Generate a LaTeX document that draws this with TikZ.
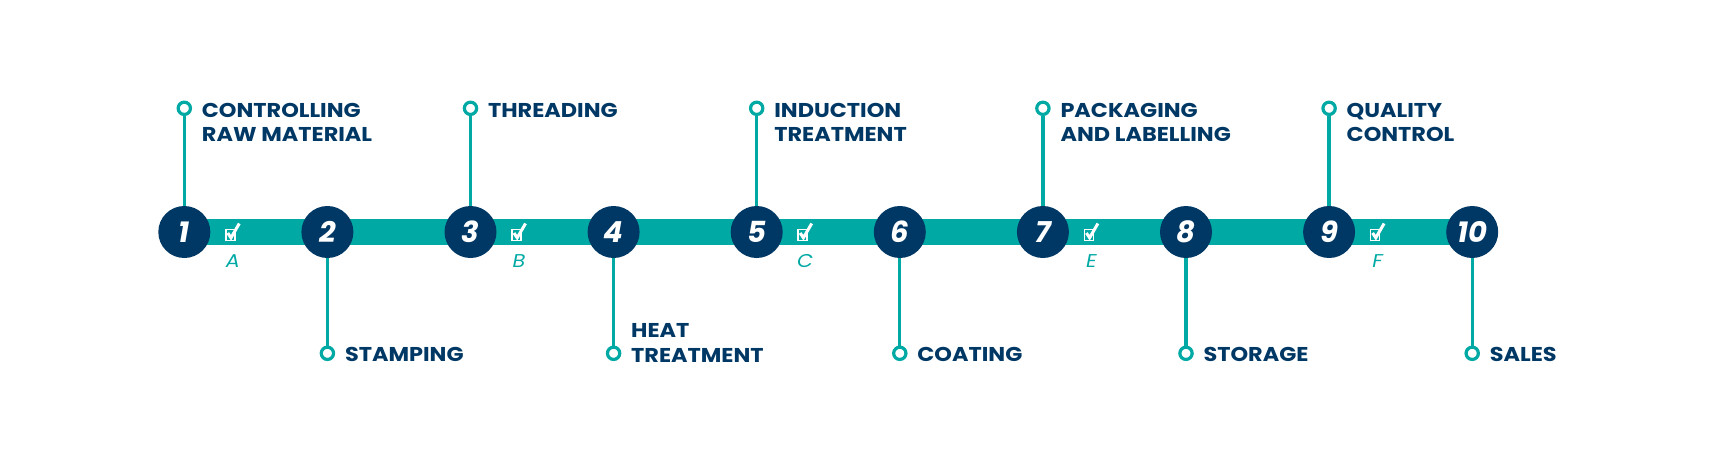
\documentclass[tikz,border=0pt]{standalone}
\usepackage{fontspec}
\setmainfont{Poppins}
\newfontfamily\labfont{Poppins}[FakeStretch=1.12]
\definecolor{navy}{RGB}{0,56,101}
\definecolor{teal}{RGB}{0,169,164}
\begin{document}
\begin{tikzpicture}[x=1pt,y=-1pt,
  stepc/.style={circle,fill=navy,minimum size=52pt,inner sep=0pt,text=white,font=\fontsize{29}{29}\selectfont\bfseries\itshape},
  pin/.style={circle,draw=teal,line width=3.2pt,fill=white,minimum size=12.3pt,inner sep=0pt},
  stem/.style={teal,line width=3.3pt},
  lab/.style={anchor=base west,align=left,inner sep=0pt,text=navy,font=\labfont\fontsize{20}{24.5}\selectfont\bfseries},
  letter/.style={text=teal,inner sep=0pt,font=\labfont\fontsize{18.5}{18.5}\selectfont\itshape},
  chk/.pic={\draw[white,line width=1.7pt] (-8.5,-2) rectangle (0.5,9);
            \draw[white,line width=3pt] (-6.5,1.5) -- (-3.3,6.3) -- (5,-8);}
]
\useasboundingbox (0,0) rectangle (1716,458);
\def\dx{143.1}
% bar
\coordinate (b0) at (184.3,232);
\coordinate (b1) at (1472.2,232);
\draw[teal,line width=25.7pt] (b0) -- (b1);
% stems and pins
\foreach \i in {1,...,10}{
  \pgfmathsetmacro\xx{184.3+(\i-1)*\dx}
  \coordinate (c\i) at (\xx,232);
}
\foreach \i/\yy in {1/108.3,2/353.3,3/108.3,4/353.3,5/108.3,6/353.3,7/108.3,8/353.3,9/108.3,10/353.3}{
  \path (c\i) ++(0,0) coordinate (tmp);
  \node[pin] (p\i) at (tmp |- 0,\yy) {};
  \draw[stem] (c\i) -- (p\i);
}
% circles
\foreach \i in {1,...,10}{
  \node[stepc] (n\i) at (c\i) {\i};
}
% checks
\foreach \i/\l in {1/A,3/B,5/C,7/E,9/F}{
  \pic at ([xshift=50pt,yshift=0.5pt]c\i) {chk};
  \node[letter] (l\i) at ([xshift=48.5pt,yshift=-29.5pt]c\i) {\l};
}
% labels (base = last line)
\node[lab] (t1) at ([xshift=17.4pt]p1.center |- 0,141.7) {CONTROLLING\\RAW MATERIAL};
\node[lab] (t2) at ([xshift=17.4pt]p2.center |- 0,361.7) {STAMPING};
\node[lab] (t3) at ([xshift=17.4pt]p3.center |- 0,117.3) {THREADING};
\node[lab] (t4) at ([xshift=17.4pt]p4.center |- 0,362.3) {HEAT\\TREATMENT};
\node[lab] (t5) at ([xshift=17.4pt]p5.center |- 0,141.7) {INDUCTION\\TREATMENT};
\node[lab] (t6) at ([xshift=17.4pt]p6.center |- 0,361.7) {COATING};
\node[lab] (t7) at ([xshift=17.4pt]p7.center |- 0,141.7) {PACKAGING\\AND LABELLING};
\node[lab] (t8) at ([xshift=17.4pt]p8.center |- 0,361.7) {STORAGE};
\node[lab] (t9) at ([xshift=17.4pt]p9.center |- 0,141.7) {QUALITY\\CONTROL};
\node[lab] (t10) at ([xshift=17.4pt]p10.center |- 0,361.7) {SALES};
\end{tikzpicture}
\end{document}
